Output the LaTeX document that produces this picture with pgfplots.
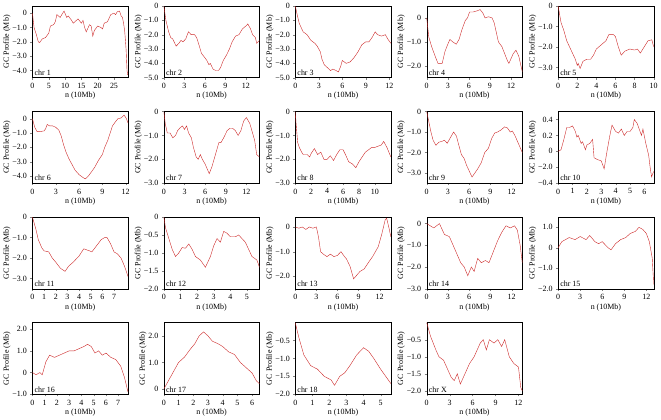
\documentclass[border=0pt]{standalone}
\usepackage{fontspec}
\setmainfont{Liberation Serif}
\usepackage{pgfplots}
\pgfplotsset{compat=1.18}
\usepgfplotslibrary{groupplots}
\definecolor{gcred}{RGB}{205,40,40}

\pgfplotsset{
  gc/.style={
    scale only axis, width=96pt, height=72pt,
    font=\fontsize{8}{9}\selectfont,
    tick label style={font=\fontsize{8}{9}\selectfont},
    /pgf/number format/assume math mode=true,
    xtick pos=bottom, ytick pos=left, tick align=outside,
    major tick length=2pt,
    xlabel={n (10Mb)}, ylabel={GC Profile (Mb)},
    xlabel style={yshift=3pt},
    ylabel style={yshift=-5pt},
    cycle list={{gcred, line width=0.7pt, no marks}},
  },
}
\newcommand{\chr}[1]{\node[anchor=south west, font=\fontsize{8}{9}\selectfont, inner sep=2pt] at (rel axis cs:0,0) {chr #1};}

\begin{document}
\begin{tikzpicture}
\begin{groupplot}[group style={group size=5 by 4, horizontal sep=36pt, vertical sep=34pt}, gc]

\nextgroupplot[xmin=0, xmax=29.3, ymin=-4.5, ymax=0.5, xtick={0,5,...,25},
  ytick={0,-1,-2,-3,-4}, yticklabels={0,−1.0,−2.0,−3.0,−4.0}]
\addplot coordinates {(0,0) (0.5,-1.0) (1.2,-1.5) (1.8,-2.0) (2.2,-2.05) (3,-1.8) (4,-1.7) (5,-1.4) (5.5,-0.9) (6.5,-0.8) (7,-0.6) (7.5,-0.1) (8.5,-0.3) (9,-0.1) (9.7,0.15) (10.5,-0.3) (11,-0.2) (12,-0.5) (12.5,-0.7) (13.5,-0.5) (14,-0.4) (15,-0.7) (15.5,-0.5) (16,-1.0) (16.5,-1.3) (17.5,-0.8) (18,-0.9) (18.5,-1.6) (19,-1.2) (20,-0.9) (21,-1.0) (21.5,-1.1) (22,-0.7) (23,-0.6) (24,-0.1) (25,0.0) (25.5,-0.1) (26,0.1) (26.7,0.15) (27.2,-0.2) (27.6,-0.3) (28,-0.8) (28.3,-1.3) (28.7,-2.5) (29,-4.0) (29.2,-4.3)};
\chr{1}

\nextgroupplot[xmin=0, xmax=14, ymin=-5, ymax=0, xtick={0,3,...,12},
  ytick={0,-1,-2,-3,-4,-5}, yticklabels={0,−1.0,−2.0,−3.0,−4.0,−5.0}]
\addplot coordinates {(0,0) (0.3,-1.0) (0.7,-1.8) (1.0,-2.2) (1.3,-2.3) (1.5,-2.5) (1.8,-2.8) (2.2,-2.6) (2.5,-2.4) (2.8,-2.5) (3.2,-2.3) (3.6,-1.8) (4,-2.0) (4.5,-2.0) (4.8,-2.2) (5.2,-2.8) (5.5,-3.3) (6,-3.6) (6.3,-3.8) (6.6,-4.1) (6.8,-4.0) (7.2,-4.4) (7.6,-4.5) (8.0,-4.5) (8.3,-4.3) (8.7,-3.8) (9.2,-3.4) (9.6,-3.0) (10,-2.5) (10.5,-2.1) (11,-2.0) (11.5,-1.6) (12,-1.4) (12.3,-1.25) (12.7,-1.6) (13,-2.0) (13.4,-2.2) (13.6,-2.6) (14,-2.4)};
\chr{2}

\nextgroupplot[xmin=0, xmax=12.2, ymin=-5, ymax=0, xtick={0,3,...,12},
  ytick={0,-1,-2,-3,-4,-5}, yticklabels={0,−1.0,−2.0,−3.0,−4.0,−5.0}]
\addplot coordinates {(0,0) (0.2,-0.5) (0.5,-1.2) (1.0,-1.8) (1.5,-2.0) (2,-2.4) (2.5,-2.6) (2.8,-2.8) (3.2,-3.2) (3.4,-3.7) (3.7,-4.1) (4.1,-4.3) (4.5,-4.5) (4.8,-4.4) (5.2,-4.5) (5.5,-4.6) (5.8,-4.2) (6.0,-3.8) (6.5,-4.0) (7,-3.9) (7.5,-3.6) (8.0,-3.2) (8.5,-2.7) (9,-2.5) (9.4,-2.5) (9.8,-2.2) (10.2,-1.8) (10.5,-2.0) (11,-2.1) (11.5,-2.0) (11.8,-2.3) (12.2,-2.6)};
\chr{3}

\nextgroupplot[xmin=0, xmax=13.6, ymin=-2.5, ymax=0.5, xtick={0,3,...,12},
  ytick={0,-1,-2}, yticklabels={0,−1.0,−2.0}]
\addplot coordinates {(0,0) (0.3,-0.8) (0.7,-1.2) (1.2,-1.6) (1.6,-1.9) (2.2,-1.9) (2.6,-1.4) (3.0,-1.1) (3.3,-0.9) (3.7,-1.0) (4.2,-1.1) (4.6,-0.9) (5.0,-0.5) (5.5,-0.1) (5.8,0.0) (6.1,0.25) (6.6,0.25) (7.2,0.3) (7.6,0.35) (8.0,0.2) (8.3,0) (8.8,0.05) (9.3,0) (9.6,-0.2) (9.9,-0.6) (10.2,-1.0) (10.7,-1.2) (11.1,-1.5) (11.5,-1.8) (11.7,-1.9) (12.3,-1.5) (12.7,-1.35) (13.1,-1.6) (13.6,-2.25)};
\chr{4}

\nextgroupplot[xmin=0, xmax=10, ymin=-3.5, ymax=0, xtick={0,2,...,10},
  ytick={0,-1,-2,-3}, yticklabels={0,−1.0,−2.0,−3.0}]
\addplot coordinates {(0,0) (0.3,-0.8) (0.6,-1.2) (0.9,-1.7) (1.2,-2.0) (1.5,-2.3) (1.8,-2.6) (2.0,-2.9) (2.1,-2.8) (2.3,-3.05) (2.6,-2.7) (3.0,-2.6) (3.4,-2.6) (3.7,-2.4) (4.0,-2.1) (4.5,-1.9) (5.0,-1.7) (5.3,-1.4) (5.8,-1.4) (6.0,-1.5) (6.3,-2.0) (6.6,-2.4) (7,-2.2) (7.5,-2.1) (8.0,-2.15) (8.3,-2.1) (8.6,-2.3) (9,-2.0) (9.4,-1.7) (9.8,-1.65) (10,-2.0)};
\chr{5}

\nextgroupplot[xmin=0, xmax=12.3, ymin=-4.5, ymax=0.5, xtick={0,3,...,12},
  ytick={0,-1,-2,-3,-4}, yticklabels={0,−1.0,−2.0,−3.0,−4.0}]
\addplot coordinates {(0,0) (0.3,-0.6) (0.6,-0.9) (1.0,-0.9) (1.5,-0.85) (1.7,-0.7) (1.9,-0.4) (2.2,-0.5) (2.6,-0.5) (3.0,-0.6) (3.4,-0.8) (3.7,-1.2) (4.0,-1.8) (4.3,-2.3) (4.7,-2.8) (5.1,-3.2) (5.5,-3.6) (6.0,-3.9) (6.5,-4.1) (6.8,-4.2) (7.2,-4.0) (7.6,-3.7) (8.0,-3.4) (8.5,-2.9) (9.0,-2.5) (9.3,-2.0) (9.7,-1.5) (10,-1.0) (10.3,-0.5) (10.7,-0.2) (11,0) (11.4,0.05) (11.8,0.25) (12.1,0) (12.3,-0.3)};
\chr{6}

\nextgroupplot[xmin=0, xmax=13.9, ymin=-3, ymax=0, xtick={0,3,...,12},
  ytick={0,-1,-2,-3}, yticklabels={0,−1.0,−2.0,−3.0}]
\addplot coordinates {(0,0) (0.2,-0.5) (0.5,-0.9) (0.9,-0.9) (1.3,-1.1) (1.7,-1.0) (2.0,-0.8) (2.3,-0.7) (2.7,-0.6) (3.0,-0.75) (3.3,-0.6) (3.6,-0.9) (4.0,-1.1) (4.3,-1.5) (4.7,-1.9) (5.0,-2.0) (5.3,-1.8) (5.6,-2.0) (6.0,-2.2) (6.3,-2.4) (6.6,-2.6) (7.0,-2.3) (7.3,-2.0) (7.7,-1.6) (8.0,-1.3) (8.3,-1.3) (8.7,-1.1) (9.2,-0.8) (9.6,-0.7) (10,-0.7) (10.4,-0.8) (10.8,-1.0) (11.2,-0.8) (11.6,-0.4) (12.0,-0.25) (12.5,-0.5) (12.9,-0.9) (13.2,-1.2) (13.5,-1.8) (13.9,-1.9)};
\chr{7}

\nextgroupplot[xmin=0, xmax=12, ymin=-3, ymax=0, xtick={0,2,...,10},
  ytick={0,-1,-2,-3}, yticklabels={0,−1.0,−2.0,−3.0}]
\addplot coordinates {(0,0) (0.1,-0.5) (0.3,-1.3) (0.5,-1.5) (0.8,-1.7) (1.0,-1.8) (1.5,-1.8) (1.8,-1.9) (2.0,-1.75) (2.4,-1.55) (2.8,-1.8) (3.2,-1.7) (3.6,-2.0) (4.0,-2.0) (4.4,-1.85) (4.8,-2.05) (5.2,-1.8) (5.6,-1.6) (6.0,-1.6) (6.3,-1.8) (6.7,-2.1) (7.2,-2.2) (7.6,-2.35) (8.0,-2.1) (8.4,-1.9) (8.8,-1.7) (9.2,-1.6) (9.6,-1.5) (10.0,-1.5) (10.4,-1.45) (10.8,-1.4) (11.1,-1.25) (11.5,-1.5) (12.0,-1.9)};
\chr{8}

\nextgroupplot[xmin=0, xmax=13.5, ymin=-3.5, ymax=0, xtick={0,3,...,12},
  ytick={0,-1,-2,-3}, yticklabels={0,−1.0,−2.0,−3.0}]
\addplot coordinates {(0,0) (0.3,-0.5) (0.6,-1.0) (0.9,-1.4) (1.3,-1.65) (1.7,-1.5) (2.2,-1.45) (2.5,-1.4) (2.9,-1.55) (3.3,-1.3) (3.8,-1.0) (4.2,-1.2) (4.5,-1.6) (4.9,-2.1) (5.3,-2.3) (5.6,-2.6) (6.0,-2.9) (6.4,-3.2) (6.8,-3.0) (7.2,-2.8) (7.7,-2.5) (8.2,-2.0) (8.7,-1.8) (9.2,-1.3) (9.6,-1.05) (10.0,-1.0) (10.5,-0.9) (11.0,-0.75) (11.4,-0.8) (11.8,-1.0) (12.1,-0.95) (12.5,-1.2) (13.0,-1.6) (13.5,-2.0)};
\chr{9}

\nextgroupplot[xmin=0, xmax=6.65, ymin=-0.4, ymax=0.5, xtick={0,1,...,6},
  ytick={0.4,0.2,0,-0.2,-0.4}, yticklabels={0.4,0.2,0,−2.0,−0.4}]
\addplot coordinates {(0,0) (0.2,0.02) (0.4,0.15) (0.6,0.3) (0.8,0.3) (1.0,0.32) (1.2,0.25) (1.3,0.18) (1.4,0.2) (1.6,0.1) (1.7,0.12) (1.9,0.02) (2.0,0.08) (2.2,0.1) (2.4,0.15) (2.5,-0.08) (2.7,-0.1) (3.0,-0.12) (3.2,-0.22) (3.4,0.0) (3.6,0.2) (3.75,0.33) (4.0,0.25) (4.2,0.23) (4.4,0.28) (4.6,0.2) (4.8,0.25) (5.0,0.25) (5.2,0.3) (5.3,0.4) (5.5,0.35) (5.6,0.3) (5.8,0.2) (5.9,0.28) (6.1,0.1) (6.3,-0.05) (6.4,-0.2) (6.5,-0.32) (6.65,-0.25)};
\chr{10}

\nextgroupplot[xmin=0, xmax=8.2, ymin=-3.5, ymax=0, xtick={0,1,...,7},
  ytick={0,-1,-2,-3}, yticklabels={0,−1.0,−2.0,−3.0}]
\addplot coordinates {(0,0) (0.3,-0.6) (0.5,-1.1) (0.8,-1.5) (1.0,-1.65) (1.4,-1.7) (1.7,-2.0) (2.0,-2.2) (2.4,-2.5) (2.8,-2.65) (3.1,-2.4) (3.5,-2.2) (4.0,-1.9) (4.4,-1.55) (4.9,-1.65) (5.1,-1.7) (5.5,-1.4) (5.9,-1.1) (6.2,-1.0) (6.4,-1.0) (6.7,-1.3) (7.0,-1.7) (7.3,-1.8) (7.6,-2.0) (7.9,-2.4) (8.2,-2.9)};
\chr{11}

\nextgroupplot[xmin=0, xmax=5.75, ymin=-2, ymax=0, xtick={0,1,...,5},
  ytick={0,-0.5,-1,-1.5,-2}, yticklabels={0,−0.5,−1.0,−1.5,−2.0}]
\addplot coordinates {(0,0) (0.1,-0.3) (0.3,-0.6) (0.5,-0.9) (0.7,-1.1) (0.9,-1.0) (1.1,-0.85) (1.3,-0.87) (1.5,-0.75) (1.7,-0.9) (1.9,-1.1) (2.2,-1.2) (2.5,-1.4) (2.8,-1.1) (3.0,-0.8) (3.2,-0.6) (3.4,-0.7) (3.6,-0.4) (3.8,-0.45) (4.0,-0.55) (4.3,-0.55) (4.5,-0.5) (4.7,-0.6) (4.9,-0.7) (5.1,-0.9) (5.3,-1.1) (5.6,-1.2) (5.75,-1.4)};
\chr{12}

\nextgroupplot[xmin=0, xmax=13.6, ymin=-2.5, ymax=0.4, xtick={0,3,...,12},
  ytick={0,-1,-2}, yticklabels={0,−1.0,−2.0}]
\addplot coordinates {(0,0) (0.5,-0.05) (1,0) (1.5,-0.1) (2,0) (2.5,-0.05) (3,0) (3.3,-0.4) (3.6,-1.0) (4,-1.1) (4.5,-1.2) (5,-1.1) (5.5,-1.2) (6,-1.15) (6.5,-1.0) (7,-1.2) (7.3,-1.3) (7.8,-1.6) (8.3,-2.1) (8.6,-2.0) (9.2,-1.8) (9.8,-1.7) (10.5,-1.4) (11,-1.2) (11.8,-0.8) (12.3,-0.3) (12.8,0.3) (13,0.35) (13.3,0) (13.6,-0.4)};
\chr{13}

\nextgroupplot[xmin=0, xmax=13.5, ymin=-3, ymax=0.3, xtick={0,3,...,12},
  ytick={0,-1,-2,-3}, yticklabels={0,−1.0,−2.0,−3.0}]
\addplot coordinates {(0,0) (1,-0.2) (1.8,0) (2.5,-0.5) (3.2,-0.6) (4,-1.2) (4.8,-1.8) (5.3,-2.0) (5.8,-2.4) (6.3,-2.0) (6.7,-2.2) (7.2,-1.6) (7.7,-1.8) (8.3,-1.7) (8.8,-1.8) (9.4,-1.3) (10,-0.8) (10.6,-0.4) (11.2,-0.1) (11.8,-0.2) (12.4,-0.1) (12.8,-0.3) (13.2,-1.0) (13.5,-1.8)};
\chr{14}

\nextgroupplot[xmin=0, xmax=13, ymin=-2, ymax=1.5, xtick={0,3,...,12},
  ytick={1,0,-1,-2}, yticklabels={1.0,0,−1.0,−2.0}]
\addplot coordinates {(0,0) (0.5,0.3) (1.5,0.5) (2.3,0.4) (3,0.55) (3.8,0.4) (4.3,0.6) (5,0.3) (5.5,0.2) (6,0.3) (6.8,0.0) (7.2,-0.1) (7.8,0.2) (8.5,0.4) (9.2,0.5) (9.8,0.7) (10.5,0.8) (11,1.0) (11.5,0.9) (12,0.7) (12.4,0.3) (12.8,-0.5) (13,-1.8)};
\chr{15}

\nextgroupplot[xmin=0, xmax=7.8, ymin=-1, ymax=2.3, xtick={0,1,...,7},
  ytick={2,1,0,-1}, yticklabels={2.0,1.0,0,−1.0}]
\addplot coordinates {(0,0) (0.3,-0.1) (0.6,0.0) (0.8,-0.1) (1.1,0.5) (1.4,0.8) (1.8,0.7) (2.2,0.8) (2.6,0.9) (3.0,1.0) (3.4,1.0) (3.8,1.1) (4.2,1.2) (4.5,1.3) (4.8,1.2) (5.1,0.9) (5.4,1.0) (5.7,0.8) (6.0,0.9) (6.4,0.7) (6.8,0.6) (7.2,0.3) (7.5,-0.2) (7.8,-0.9)};
\chr{16}

\nextgroupplot[xmin=0, xmax=6.5, ymin=-0.2, ymax=2.5, xtick={0,1,...,6},
  ytick={2,1,0}, yticklabels={2.0,1.0,0}]
\addplot coordinates {(0,0) (0.3,0.3) (0.6,0.6) (1.0,1.0) (1.4,1.2) (1.8,1.5) (2.1,1.7) (2.4,2.0) (2.7,2.15) (3.0,2.0) (3.3,1.8) (3.7,1.7) (4.0,1.6) (4.4,1.4) (4.8,1.3) (5.2,1.0) (5.6,0.8) (6.0,0.6) (6.3,0.3) (6.5,0.2)};
\chr{17}

\nextgroupplot[xmin=0, xmax=5.6, ymin=-2, ymax=0, xtick={0,1,...,5},
  ytick={-0.5,-1,-1.5,-2}, yticklabels={−0.5,−1.0,−1.5,−2.0}]
\addplot coordinates {(0,0) (0.2,-0.4) (0.5,-0.9) (0.9,-1.2) (1.3,-1.3) (1.7,-1.5) (2.1,-1.6) (2.3,-1.75) (2.6,-1.5) (2.9,-1.4) (3.2,-1.2) (3.6,-0.9) (4.0,-0.7) (4.3,-0.8) (4.6,-1.0) (5.0,-1.3) (5.3,-1.5) (5.6,-1.7)};
\chr{18}

\nextgroupplot[xmin=0, xmax=12.5, ymin=-2.1, ymax=0, xtick={0,3,...,12},
  ytick={-0.5,-1,-1.5,-2}, yticklabels={−0.5,−1.0,−1.5,−2.0}]
\addplot coordinates {(0,0) (0.5,-0.4) (1.2,-0.8) (1.6,-1.0) (2.2,-1.1) (2.6,-1.3) (3.2,-1.6) (3.6,-1.7) (4.0,-1.5) (4.4,-1.8) (5,-1.5) (5.6,-1.2) (6.2,-1.0) (6.6,-0.8) (7.0,-0.6) (7.4,-0.5) (7.8,-0.8) (8.2,-0.5) (8.8,-0.6) (9.3,-0.5) (9.8,-0.7) (10.2,-0.5) (10.8,-1.0) (11.4,-1.2) (12,-1.3) (12.3,-1.9) (12.5,-2.0)};
\chr{X}

\end{groupplot}
\end{tikzpicture}
\end{document}
